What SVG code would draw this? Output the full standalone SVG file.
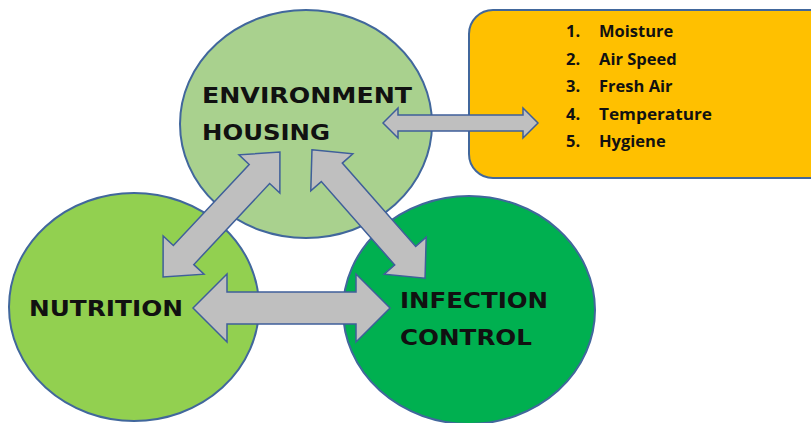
<svg xmlns="http://www.w3.org/2000/svg" width="811" height="423" viewBox="0 0 811 423">
<style>
.node{stroke:#41679C;stroke-width:2}
.arrow{fill:#BFBFBF;stroke:#3F5F9A;stroke-width:1.5;stroke-linejoin:miter}
.big{font-family:"DejaVu Sans","Liberation Sans",sans-serif;font-weight:bold;font-size:22px;fill:#111}
.list{font-family:"Open Sans","Liberation Sans",sans-serif;font-weight:bold;font-size:16.5px;fill:#111}
</style>
<rect width="811" height="423" fill="#fff"/>
<g id="factors">
<rect x="469" y="10" width="370" height="168" rx="24" fill="#FFC000" class="node"/>
<text class="list" x="566" y="37">1.</text><text class="list" x="599" y="37">Moisture</text>
<text class="list" x="566" y="65">2.</text><text class="list" x="599" y="65">Air Speed</text>
<text class="list" x="566" y="92">3.</text><text class="list" x="599" y="92">Fresh Air</text>
<text class="list" x="566" y="120">4.</text><text class="list" x="599" y="120" textLength="113" lengthAdjust="spacingAndGlyphs">Temperature</text>
<text class="list" x="566" y="147">5.</text><text class="list" x="599" y="147">Hygiene</text>
</g>
<g id="nutrition">
<ellipse cx="134" cy="307" rx="125" ry="114" fill="#92D050" class="node"/>
</g>
<g id="infection-control">
<ellipse cx="469" cy="310" rx="126" ry="114" fill="#00B050" class="node"/>
</g>
<g id="environment-housing">
<ellipse cx="306" cy="124" rx="126" ry="114" fill="#A9D18E" class="node"/>
</g>
<g id="connectors">
<polygon class="arrow" transform="translate(221.5,214.5) rotate(-46.9)" points="-85.5,0 -55.5,-28 -55.5,-14 55.5,-14 55.5,-28 85.5,0 55.5,28 55.5,14 -55.5,14 -55.5,28"/>
<polygon class="arrow" transform="translate(368.5,214) rotate(48.6)" points="-85.5,0 -55.5,-28 -55.5,-14 55.5,-14 55.5,-28 85.5,0 55.5,28 55.5,14 -55.5,14 -55.5,28"/>
<polygon class="arrow" points="383,123 398,108 398,115 523,115 523,108 538,123 523,138 523,131 398,131 398,138"/>
<polygon class="arrow" points="193,308 227,274 227,292 356,292 356,274 390,308 356,342 356,324 227,324 227,342"/>
</g>
<g id="labels">
<text class="big" x="202" y="103" textLength="210" lengthAdjust="spacingAndGlyphs">ENVIRONMENT</text>
<text class="big" x="202" y="140" textLength="128" lengthAdjust="spacingAndGlyphs">HOUSING</text>
<text class="big" x="29" y="316" textLength="154" lengthAdjust="spacingAndGlyphs">NUTRITION</text>
<text class="big" x="400" y="308" textLength="148" lengthAdjust="spacingAndGlyphs">INFECTION</text>
<text class="big" x="400" y="345" textLength="132" lengthAdjust="spacingAndGlyphs">CONTROL</text>
</g>
</svg>
